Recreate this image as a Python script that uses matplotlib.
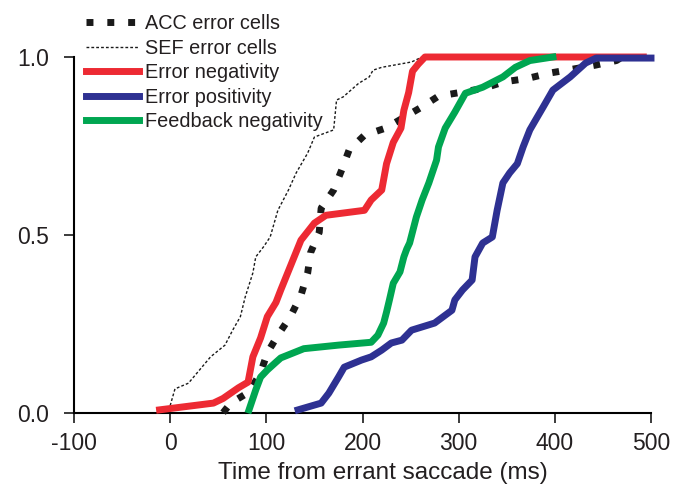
import matplotlib
matplotlib.use("Agg")
import matplotlib.pyplot as plt

plt.rcParams['font.family'] = ['Liberation Sans', 'DejaVu Sans']
plt.rcParams['axes.unicode_minus'] = False

# ACC error cells (squares)
acc_x = [55, 63, 82, 94, 101, 112, 125, 136, 143, 146, 155, 157, 170, 178, 186, 202, 224,
         262, 279, 301, 326, 347, 372, 395, 419, 442, 464, 470]
acc_y = [0.0, 0.027, 0.058, 0.112, 0.168, 0.218, 0.27, 0.33, 0.393, 0.45, 0.507, 0.575, 0.626,
         0.68, 0.738, 0.78, 0.80, 0.86, 0.89, 0.90, 0.912, 0.93, 0.94, 0.955, 0.966, 0.977, 0.99, 1.0]

# SEF error cells (thin dotted)
sef_x = [0, 5, 19, 42, 57, 65, 73, 78, 86, 89, 97, 104, 112, 123, 131, 143, 150, 170, 173,
         180, 196, 207, 211, 220, 251, 262]
sef_y = [0.02, 0.067, 0.083, 0.157, 0.19, 0.232, 0.27, 0.325, 0.393, 0.438, 0.466, 0.494,
         0.569, 0.626, 0.674, 0.73, 0.775, 0.795, 0.879, 0.888, 0.926, 0.944, 0.963, 0.971,
         0.986, 1.0]

# Error negativity
ern_x = [-11, 45, 55, 71, 81, 86, 94, 101, 110, 115, 136, 150, 162, 202, 209, 220, 225, 232,
         240, 243, 248, 252, 258, 265, 492]
ern_y = [0.008, 0.027, 0.04, 0.07, 0.086, 0.157, 0.21, 0.27, 0.31, 0.345, 0.485, 0.533, 0.555,
         0.569, 0.598, 0.626, 0.70, 0.76, 0.80, 0.85, 0.90, 0.96, 0.98, 1.0, 1.0]

# Error positivity
pe_x = [133, 157, 165, 175, 181, 199, 209, 220, 230, 241, 251, 275, 293, 296, 304, 314, 317,
        325, 335, 340, 346, 353, 361, 367, 374, 380, 388, 398, 416, 432, 443, 500]
pe_y = [0.008, 0.027, 0.055, 0.1, 0.128, 0.148, 0.157, 0.176, 0.196, 0.204, 0.232, 0.252,
        0.288, 0.317, 0.345, 0.373, 0.438, 0.477, 0.494, 0.569, 0.646, 0.674, 0.70, 0.747,
        0.795, 0.823, 0.86, 0.907, 0.944, 0.983, 0.997, 0.997]

# Feedback negativity
frn_x = [82, 89, 94, 101, 110, 115, 139, 175, 209, 216, 222, 225, 228, 232, 239, 243, 246,
         249, 256, 262, 269, 277, 279, 286, 296, 307, 325, 346, 359, 374, 398]
frn_y = [0.008, 0.064, 0.1, 0.12, 0.142, 0.154, 0.18, 0.19, 0.198, 0.218, 0.252, 0.283, 0.317,
         0.364, 0.396, 0.438, 0.46, 0.477, 0.55, 0.598, 0.646, 0.71, 0.747, 0.80, 0.845, 0.898,
         0.915, 0.944, 0.971, 0.99, 1.0]

fig = plt.figure(figsize=(6.76, 4.91), dpi=100)
ax = fig.add_axes([74/676, 1 - 412.7/491, 577/676, 355.7/491])

l1, = ax.plot(acc_x, acc_y, color='#1a1a1a', lw=5, ls=(0, (1.0, 2.0)),
              dash_capstyle='butt', clip_on=False, zorder=3)
l2, = ax.plot(sef_x, sef_y, color='#1a1a1a', lw=1, ls=(0, (2, 1.5)), clip_on=False, zorder=3)
l3, = ax.plot(ern_x, ern_y, color='#ED2A33', lw=5, clip_on=False, zorder=4)
l4, = ax.plot(pe_x, pe_y, color='#2E3192', lw=5, clip_on=False, zorder=4)
l5, = ax.plot(frn_x, frn_y, color='#00A651', lw=5, clip_on=False, zorder=4)

ax.set_xlim(-100, 500)
ax.set_ylim(0, 1)
ax.set_xticks([-100, 0, 100, 200, 300, 400, 500])
ax.set_yticks([0.0, 0.5, 1.0])
ax.set_yticklabels(['0.0', '0.5', '1.0'])
for s in ['top', 'right']:
    ax.spines[s].set_visible(False)
for s in ['left', 'bottom']:
    ax.spines[s].set_linewidth(1.5)
ax.tick_params(direction='out', length=7.2, width=1.2, labelsize=16.5, color='#1a1a1a',
               labelcolor='#231f20')
ax.tick_params(axis='y', pad=11)
ax.tick_params(axis='x', pad=6.5)
ax.set_xlabel('Time from errant saccade (ms)', fontsize=17.5, color='#231f20')
ax.xaxis.set_label_coords(0.535, -0.14)

fig.legend([l1, l2, l3, l4, l5],
           ['ACC error cells', 'SEF error cells', 'Error negativity', 'Error positivity',
            'Feedback negativity'],
           loc='upper left', bbox_to_anchor=(86/676, 1 - 14/491), frameon=False,
           fontsize=14.3, handlelength=2.65, handletextpad=0.3, labelspacing=0.28,
           borderpad=0, borderaxespad=0, labelcolor='#231f20')

fig.savefig('out.png', dpi=100)
